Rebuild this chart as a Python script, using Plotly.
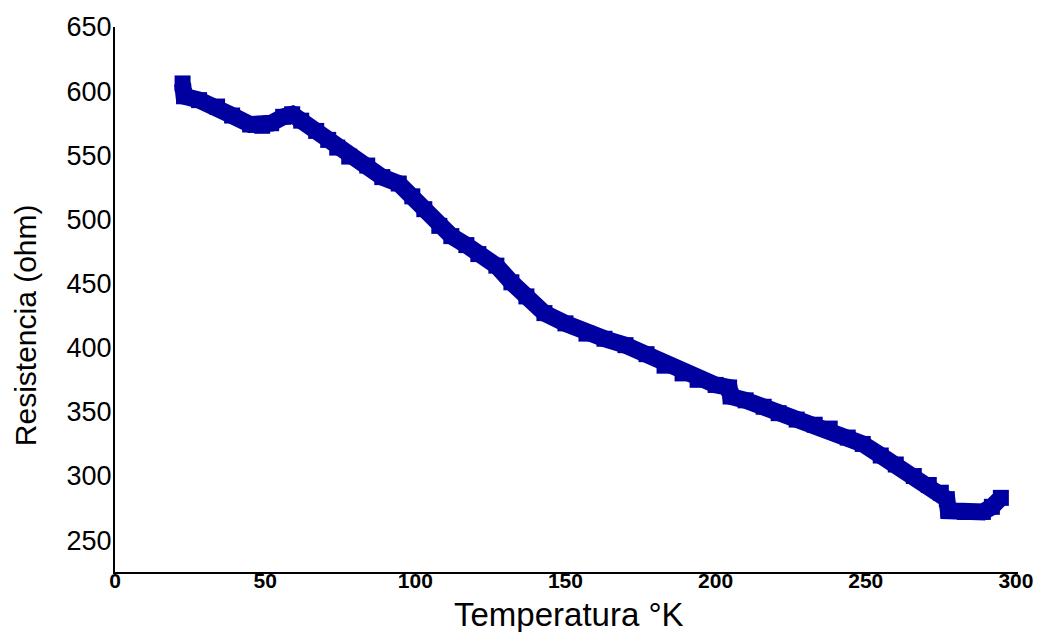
import plotly.graph_objects as go

# Temperatura (K) y resistencia (ohm) medidas
temperatura = [22.5, 23, 28, 34, 39, 45, 49, 52, 56, 59, 62, 67, 71, 74, 78, 84, 89,
               94.5, 99, 103, 108, 112, 117, 121, 127, 132, 137, 143, 150, 157, 163,
               170, 177, 183, 189, 194, 200, 204.5, 205, 210, 216, 221, 227, 233, 238,
               244, 249, 255, 260, 266, 271, 275, 277, 277.5, 283, 289, 292, 295]
resistencia = [606, 596, 593, 588, 581, 574, 573, 575, 580, 582, 577, 569, 562, 556,
               549, 542, 533, 528, 518, 508, 495, 487, 480, 473, 464, 451, 440, 427,
               419, 411, 407, 402, 395, 386, 380, 375, 371, 369, 362, 359, 354, 349,
               344, 340, 337, 330, 325, 316, 309, 300, 293, 287, 282, 273, 272, 272,
               276, 283]

x_ticks = [0, 50, 100, 150, 200, 250, 300]
y_ticks = [250, 300, 350, 400, 450, 500, 550, 600, 650]

azul = "#0000A0"
fuente = "Liberation Sans, Arial, sans-serif"

W, H = 1045, 632
l, r, t, b = 115, 23, 23, 60

fig = go.Figure()
fig.add_trace(go.Scatter(
    x=temperatura, y=resistencia, mode="lines+markers",
    line=dict(color=azul, width=17),
    marker=dict(symbol="square", size=16, color=azul, line=dict(width=0)),
    showlegend=False, hoverinfo="skip",
))

fig.update_layout(
    width=W, height=H,
    margin=dict(l=l, r=r, t=t, b=b),
    paper_bgcolor="white", plot_bgcolor="white",
    font=dict(family=fuente, color="black"),
    xaxis=dict(
        range=[0, 300.7], tickvals=x_ticks, ticktext=[str(v) for v in x_ticks],
        showgrid=False, zeroline=False, showline=True, linecolor="black", linewidth=2,
        ticks="", tickfont=dict(size=21, weight="bold"), ticklabelstandoff=-11,
    ),
    yaxis=dict(
        range=[225.2, 650], tickvals=y_ticks, ticktext=[str(v) for v in y_ticks],
        showgrid=False, zeroline=False, showline=True, linecolor="black", linewidth=2,
        ticks="", tickfont=dict(size=27), ticklabelstandoff=-4,
    ),
    annotations=[
        dict(text="Temperatura °K", showarrow=False, font=dict(size=33),
             xref="paper", yref="paper",
             x=(571 - l) / (W - l - r), y=1 - (615 - t) / (H - t - b),
             xanchor="center", yanchor="middle"),
        dict(text="Resistencia (ohm)", textangle=-90, showarrow=False,
             font=dict(size=30), xref="paper", yref="paper",
             x=(25 - l) / (W - l - r), y=1 - (323 - t) / (H - t - b),
             xanchor="center", yanchor="middle"),
    ],
)

fig.write_html("out.html")
